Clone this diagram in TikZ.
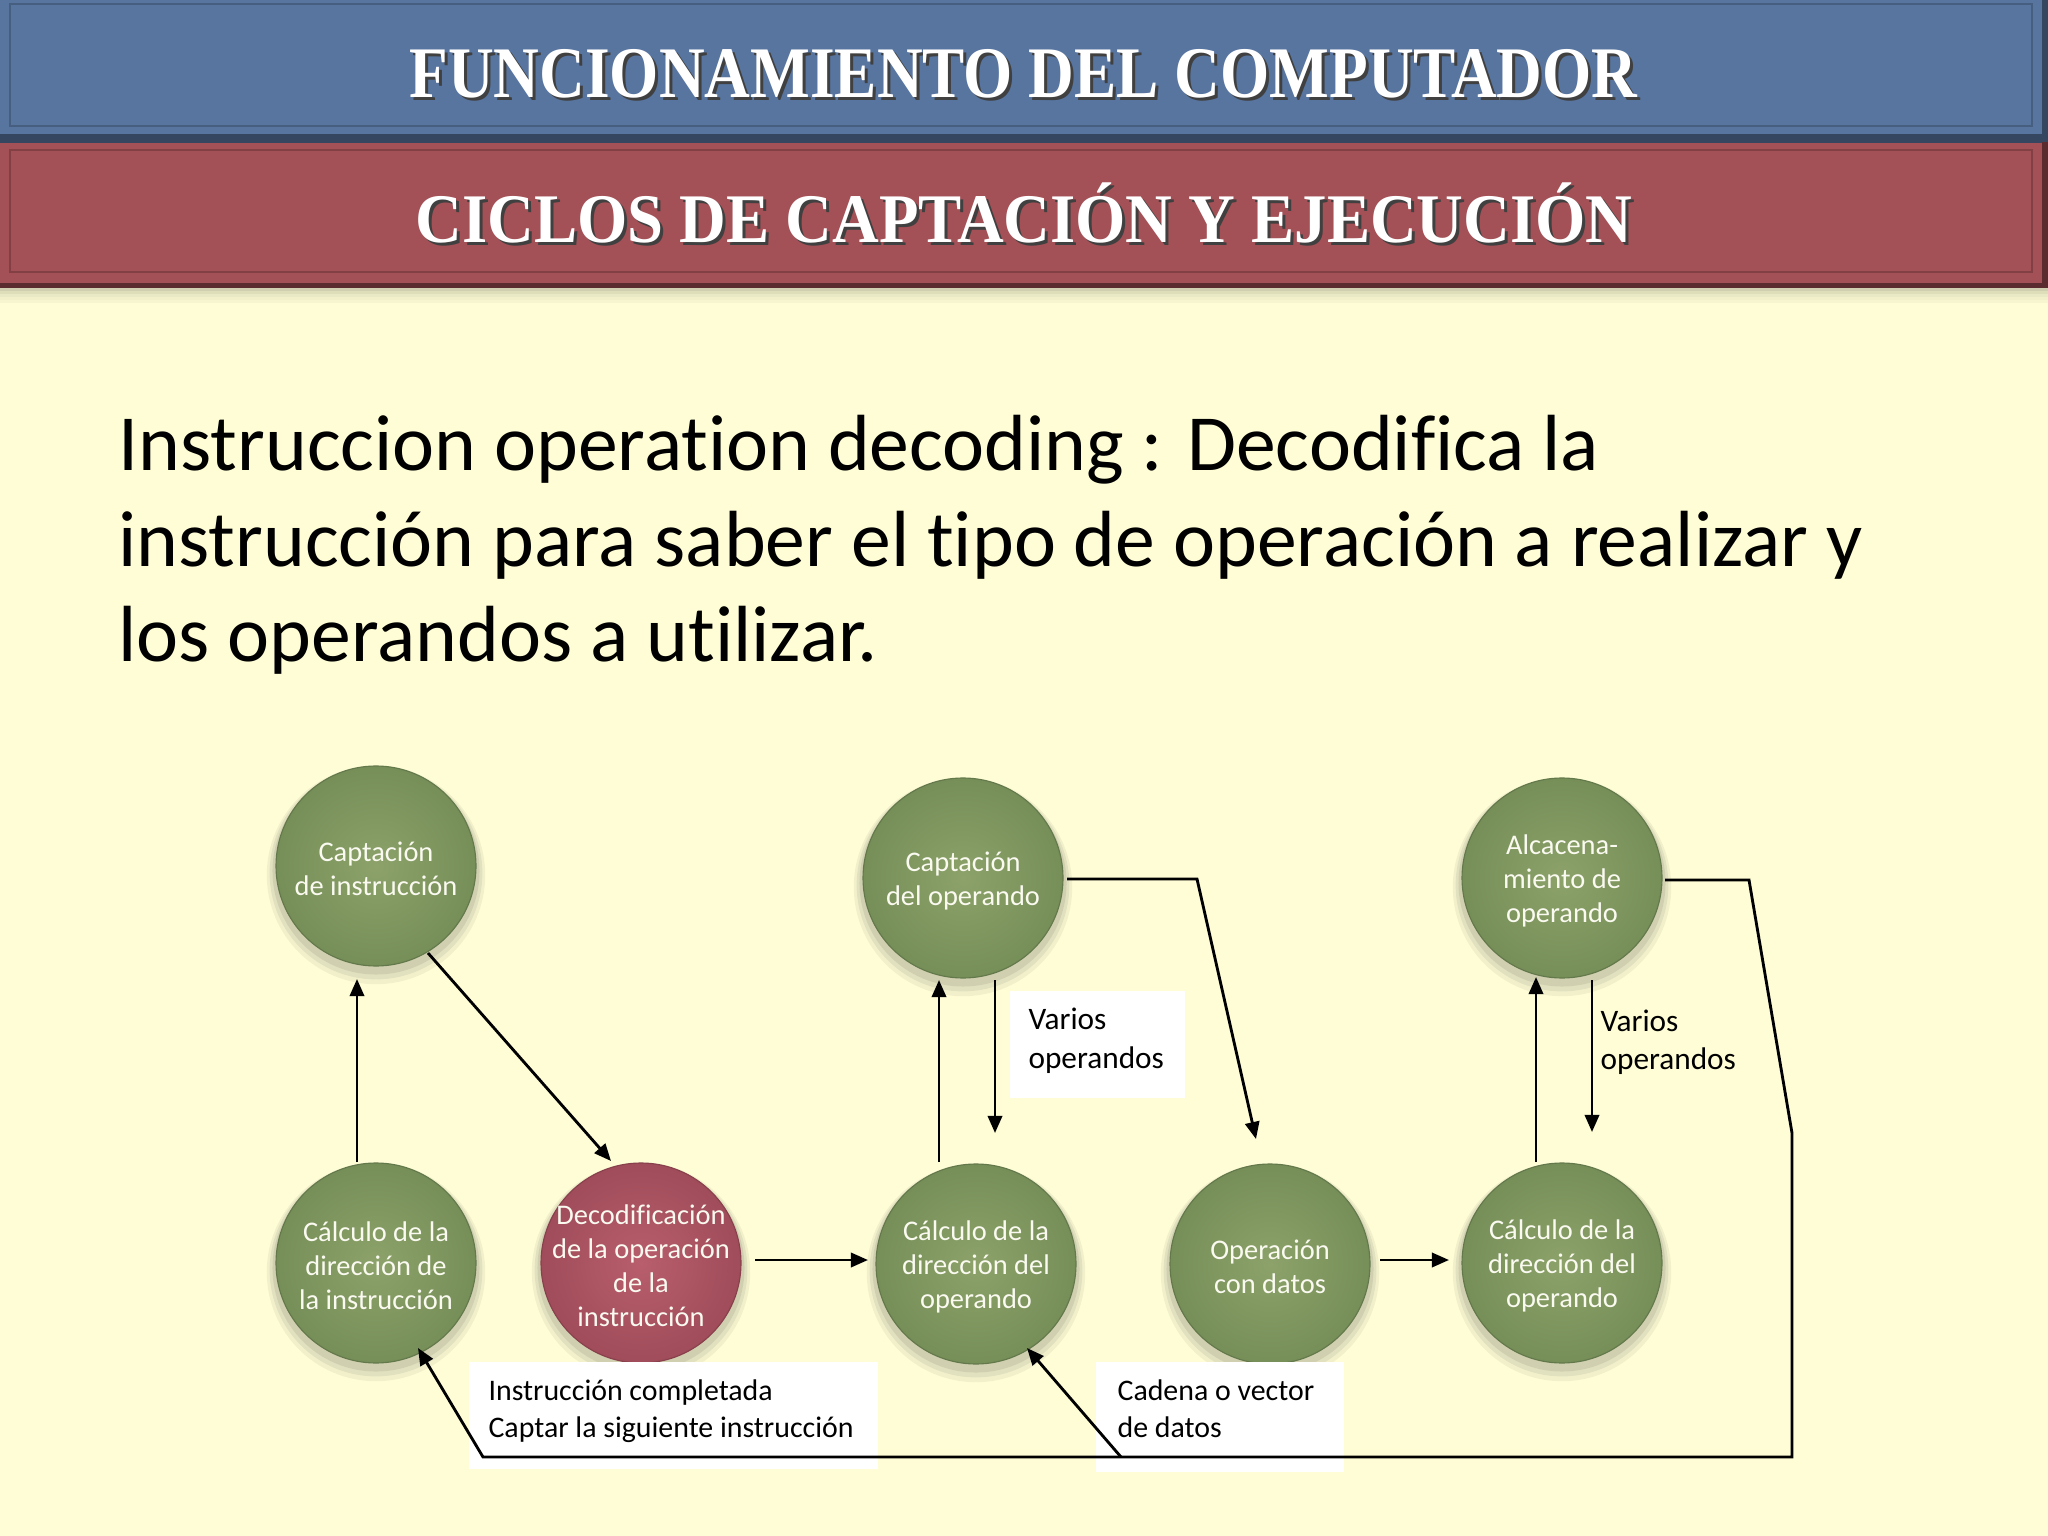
\documentclass[tikz,border=0pt]{standalone}
\usepackage{fontspec}
\setmainfont{Carlito}[Ligatures=NoCommon]
\newfontfamily\titlefont{Liberation Serif}
\usetikzlibrary{calc,arrows.meta}
\definecolor{bg}{RGB}{254,253,214}
\definecolor{barblue}{RGB}{88,117,160}
\definecolor{barred}{RGB}{163,80,86}
\definecolor{gin}{RGB}{140,162,106}
\definecolor{gout}{RGB}{118,142,88}
\definecolor{rin}{RGB}{184,94,108}
\definecolor{rout}{RGB}{160,76,90}
\definecolor{ctxt}{RGB}{250,250,240}
\newcommand\titleone{\resizebox{431.7pt}{16.9pt}{\titlefont\bfseries\raisebox{0pt}[0.662em][0pt]{FUNCIONAMIENTO DEL COMPUTADOR}}}
\newcommand\titletwo{\resizebox{427.9pt}{16.2pt}{\titlefont\bfseries\raisebox{0pt}[0.662em][0pt]{CICLOS DE CAPTACIÓN Y EJECUCIÓN}}}
\tikzset{
  circbase/.style={circle, minimum size=70.31pt, inner sep=0pt, outer sep=0pt, line width=0.4pt},
  gcirc/.style={circbase, inner color=gin, outer color=gout, draw=gout!85!black},
  rcirc/.style={circbase, inner color=rin, outer color=rout, draw=rout!85!black},
  ctext/.style={align=center, text=ctxt, font=\fontsize{10}{12}\selectfont, inner sep=0pt},
  wbox/.style={fill=white, draw=none, inner sep=0pt},
  ltext/.style={anchor=base west, inner sep=0pt, font=\fontsize{10.5}{12.8}\selectfont},
  vtext/.style={anchor=base west, inner sep=0pt, font=\fontsize{11}{13.4}\selectfont},
  btext/.style={anchor=base west, inner sep=0pt, font=\fontsize{28}{33.6}\selectfont},
  ttext/.style={anchor=south west, inner sep=0pt},
  arr/.style={line width=1pt, -{Triangle[length=6pt,width=5pt]}},
}
\begin{document}
\begin{tikzpicture}[x=0.3515625pt, y=-0.3515625pt]
\useasboundingbox (0,0) rectangle (2048,1536);
\fill[bg] (0,0) rectangle (2048,1536);
% bars
\fill[barblue] (0,0) rectangle (2048,140);
\fill[barred] (0,142) rectangle (2048,286);
\fill[barblue!60!black] (0,134) rectangle (2048,143);
\fill[barred!55!black] (0,283) rectangle (2048,288);
\fill[barblue!60!black] (2042,0) rectangle (2048,140);
\fill[barred!55!black] (2042,142) rectangle (2048,288);
\draw[barblue!80!black, line width=0.4pt] (10,4) rectangle (2032,126);
\draw[barred!80!black, line width=0.4pt] (10,150) rectangle (2032,272);
\foreach \i/\o in {0/0.18,3/0.12,6/0.08,9/0.05,12/0.03}
  \fill[black, opacity=\o] (0,288+\i) rectangle (2048,291+\i);
% titles
\node[ttext, text=black!75] (t1s) at (412,101) {\titleone};
\node[ttext, text=white] (t1) at (409,98) {\titleone};
\node[ttext, text=black!75] (t2s) at (418,246) {\titletwo};
\node[ttext, text=white] (t2) at (415,243) {\titletwo};
% body text
\node[btext] (p1) at (118,471) {Instruccion operation decoding : Decodifica la};
\node[btext] (p2) at (118,567) {instrucción para saber el tipo de operación a realizar y};
\node[btext] (p3) at (118,661) {los operandos a utilizar.};
% circle positions
\coordinate (q1) at (376,866);
\coordinate (q2) at (376,1263);
\coordinate (q3) at (641,1263);
\coordinate (q4) at (963,878);
\coordinate (q5) at (976,1264);
\coordinate (q6) at (1270,1264);
\coordinate (q7) at (1562,878);
\coordinate (q8) at (1562,1263);
% soft shadows
\foreach \n in {q1,q2,q3,q4,q5,q6,q7,q8}{
  \fill[black, opacity=0.05] ($(\n)+(0,9)$) circle[radius=38.4pt];
  \fill[black, opacity=0.06] ($(\n)+(0,7)$) circle[radius=37.4pt];
  \fill[black, opacity=0.08] ($(\n)+(0,5)$) circle[radius=36.4pt];
}
% circles
\node[gcirc] (c1) at (q1) {};
\node[gcirc] (c2) at (q2) {};
\node[rcirc] (c3) at (q3) {};
\node[gcirc] (c4) at (q4) {};
\node[gcirc] (c5) at (q5) {};
\node[gcirc] (c6) at (q6) {};
\node[gcirc] (c7) at (q7) {};
\node[gcirc] (c8) at (q8) {};
\node[ctext] (x1) at ($(c1)+(0,3)$) {Captación\\de instrucción};
\node[ctext] (x2) at ($(c2)+(0,3)$) {Cálculo de la\\dirección de\\la instrucción};
\node[ctext] (x3) at ($(c3)+(0,3)$) {Decodificación\\de la operación\\de la\\instrucción};
\node[ctext] (x4) at ($(c4)+(0,3)$) {Captación\\del operando};
\node[ctext] (x5) at ($(c5)+(0,3)$) {Cálculo de la\\dirección del\\operando};
\node[ctext] (x6) at ($(c6)+(0,3)$) {Operación\\con datos};
\node[ctext] (x7) at ($(c7)+(0,3)$) {Alcacena-\\miento de\\operando};
\node[ctext] (x8) at ($(c8)+(0,3)$) {Cálculo de la\\dirección del\\operando};
% white label boxes
\node[wbox, minimum width=143.8pt, minimum height=37.6pt] (b1) at (673.5,1415.5) {};
\node[wbox, minimum width=87.2pt, minimum height=38.7pt] (b2) at (1220,1417) {};
\node[wbox, minimum width=61.5pt, minimum height=37.6pt] (b3) at (1097.5,1044.5) {};
% connectors
\draw[arr] ($(c2.north)+(-19,-1)$) -- ($(c1.south)+(-19,13)$);
\draw[arr] ($(c1.center)+(52,87)$) -- ($(c3.north)+(-30,-2)$);
\draw[arr] ($(c3.east)+(14,-3)$) -- ($(c5.west)+(-8,-4)$);
\draw[arr] ($(c5.north)+(-37,-2)$) -- ($(c4.south)+(-24,2)$);
\draw[arr] ($(c4.south)+(32,2)$) -- ($(c5.north)+(19,-31)$);
\coordinate (k0) at (1197,879);
\draw[arr] ($(c4.east)+(4,1)$) -- (k0) -- ($(c6.north)+(-14,-25)$);
\draw[arr] ($(c6.east)+(10,-4)$) -- ($(c8.west)+(-13,-3)$);
\draw[arr] ($(c8.north)+(-26,-1)$) -- ($(c7.south)+(-26,-1)$);
\draw[arr] ($(c7.south)+(30,2)$) -- ($(c8.north)+(30,-31)$);
\coordinate (k1) at (1749,880);
\coordinate (k2) at (1792,1133);
\coordinate (k3) at (1792,1457);
\coordinate (k4) at (483,1457);
\coordinate (k5) at (1121,1457);
\draw[arr] ($(c7.east)+(3,2)$) -- (k1) -- (k2) -- (k3) -- (k4) -- ($(c2.center)+(42,85)$);
\draw[arr] (k5) -- ($(c5.center)+(51,84)$);
% label texts
\node[ltext] (l1a) at (488,1400) {Instrucción completada};
\node[ltext] (l1b) at (488,1437) {Captar la siguiente instrucción};
\node[ltext] (l2a) at (1117,1400) {Cadena o vector};
\node[ltext] (l2b) at (1117,1437) {de datos};
\node[vtext] (l3a) at (1028,1029) {Varios};
\node[vtext] (l3b) at (1028,1068) {operandos};
\node[vtext] (l4a) at (1600,1031) {Varios};
\node[vtext] (l4b) at (1600,1069) {operandos};
\end{tikzpicture}
\end{document}
